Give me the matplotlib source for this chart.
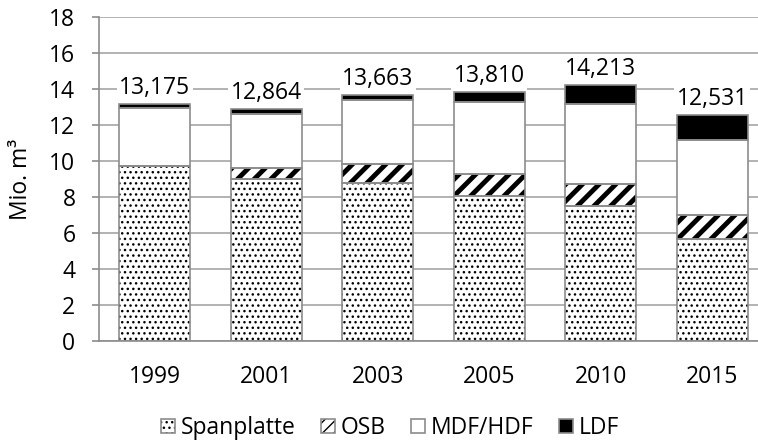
import matplotlib.pyplot as plt
import matplotlib.patches as mpatches
import numpy as np

plt.rcParams['font.family'] = ['Open Sans', 'DejaVu Sans']

jahre = ['1999', '2001', '2003', '2005', '2010', '2015']
spanplatte = [9.72, 9.00, 8.76, 8.06, 7.52, 5.67]
osb = [0.00, 0.60, 1.07, 1.20, 1.18, 1.33]
mdf_hdf = [3.21, 3.00, 3.56, 4.04, 4.47, 4.17]
ldf = [0.245, 0.264, 0.273, 0.51, 1.043, 1.361]
summen = ['13,175', '12,864', '13,663', '13,810', '14,213', '12,531']

grau = '#8c8c8c'
fs = 16.5

fig = plt.figure(figsize=(7.58, 4.41), dpi=100)
ax = fig.add_axes([99 / 758, 1 - 341 / 441, (768 - 99) / 758, 324 / 441])

x = np.arange(len(jahre))
breite = 0.64
unten = np.zeros(len(jahre))

schichten = [
    (spanplatte, 'white', '...', 1.0),
    (osb, 'white', '//', 3.5),
    (mdf_hdf, 'white', None, 1.0),
    (ldf, 'black', None, 1.0),
]
for werte, farbe, muster, hlw in schichten:
    werte = np.array(werte)
    with plt.rc_context({'hatch.linewidth': hlw}):
        ax.bar(x, werte, breite, bottom=unten, color=farbe, hatch=muster,
               edgecolor='black', linewidth=0, zorder=2)
    ax.bar(x, werte, breite, bottom=unten, fill=False,
           edgecolor=grau, linewidth=1.2, zorder=3)
    unten += werte

# Summen über den Säulen
for xi, oben, text in zip(x, unten, summen):
    ax.annotate(text, (xi, oben), xytext=(0, 3), textcoords='offset points',
                ha='center', va='bottom', fontsize=fs, zorder=4,
                bbox=dict(boxstyle='square,pad=0.1', fc='white', ec='none'))

ax.set_xlim(-0.5, len(jahre) - 0.5)
ax.set_ylim(0, 18)
ax.set_yticks(np.arange(0, 19, 2))
ax.set_xticks(x)
ax.set_xticklabels(jahre)
ax.tick_params(axis='x', length=0, labelsize=fs, pad=17)
ax.tick_params(axis='y', length=5, color=grau, width=1.2, labelsize=fs, pad=12)
ax.yaxis.grid(True, color='#a6a6a6', linewidth=1.2, zorder=0)
ax.set_axisbelow(True)
for s in ['top', 'right']:
    ax.spines[s].set_visible(False)
for s in ['left', 'bottom']:
    ax.spines[s].set_color(grau)
    ax.spines[s].set_linewidth(1.2)
ax.set_ylabel('Mio. m³', fontsize=fs, labelpad=12)

# Legende: Muster plus grauer Rahmen
rahmen = dict(facecolor='none', edgecolor=grau, linewidth=1.2)
with plt.rc_context({'hatch.linewidth': 1.0}):
    h1 = mpatches.Patch(facecolor='white', edgecolor='black', hatch='...', linewidth=0)
with plt.rc_context({'hatch.linewidth': 3.0}):
    h2 = mpatches.Patch(facecolor='white', edgecolor='black', hatch='///', linewidth=0)
h3 = mpatches.Patch(facecolor='white', edgecolor=grau, linewidth=1.2)
h4 = mpatches.Patch(facecolor='black', edgecolor=grau, linewidth=1.2)
handles = [(h1, mpatches.Patch(**rahmen)), (h2, mpatches.Patch(**rahmen)), h3, h4]
fig.legend(handles, ['Spanplatte', 'OSB', 'MDF/HDF', 'LDF'],
           loc='center', bbox_to_anchor=(390 / 758, 13 / 441), ncol=4,
           frameon=False, fontsize=fs, handlelength=0.62, handleheight=0.62,
           handletextpad=0.25, columnspacing=1.1, borderpad=0)

fig.savefig('out.png', dpi=100)
